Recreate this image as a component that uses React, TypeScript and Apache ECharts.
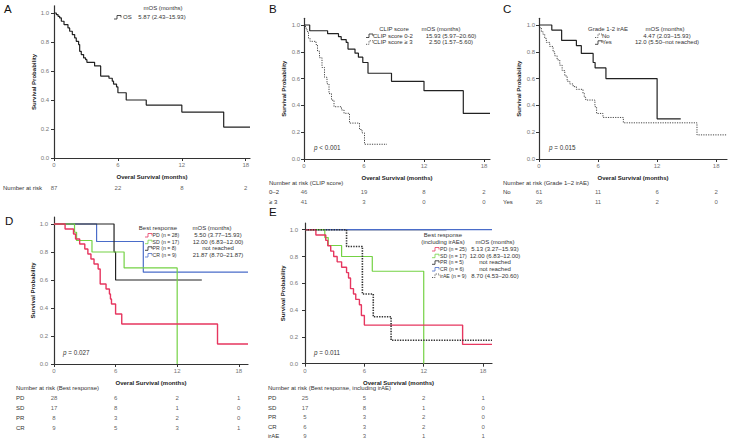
import React, { useEffect, useRef } from "react";
import * as echarts from "echarts";

const FONT = "'Liberation Sans', Arial, Helvetica, sans-serif";

// ---------- Data ----------
const TICKS_X = [0, 6, 12, 18];
const TICKS_Y = [0, 0.2, 0.4, 0.6, 0.8, 1.0];

// A: overall
const A_OS_T = [0, 0.22, 0.38, 0.53, 0.69, 0.94, 1.31, 1.47, 1.72, 1.94, 2.09, 2.31, 2.41, 2.56, 2.78, 2.97, 3.09, 3.81, 4.38, 5.16, 5.47, 5.59, 5.87, 6.0, 6.78, 8.66, 12.0, 15.93, 18.4];
const A_OS_S = [1.0, 0.989, 0.977, 0.966, 0.943, 0.92, 0.897, 0.874, 0.851, 0.828, 0.805, 0.782, 0.736, 0.713, 0.69, 0.678, 0.66, 0.635, 0.565, 0.55, 0.53, 0.51, 0.49, 0.45, 0.40, 0.365, 0.317, 0.213, 0.213];

// B: CLIP score
const B_LOW_T = [0, 0.57, 2.36, 3.45, 3.72, 4.22, 4.4, 5.1, 5.44, 5.88, 6.4, 8.75, 12.0, 15.93, 18.6];
const B_LOW_S = [1, 0.957, 0.935, 0.913, 0.891, 0.87, 0.82, 0.79, 0.76, 0.72, 0.64, 0.58, 0.51, 0.34, 0.34];
const B_HIGH_T = [0, 0.15, 0.3, 0.45, 0.6, 1.2, 1.35, 1.55, 1.8, 2.05, 2.3, 2.5, 2.75, 3.0, 3.75, 4.0, 4.55, 5.55, 5.8, 6.05, 8.3];
const B_HIGH_S = [1.0, 0.976, 0.951, 0.902, 0.878, 0.854, 0.805, 0.756, 0.683, 0.61, 0.561, 0.488, 0.439, 0.39, 0.366, 0.341, 0.268, 0.22, 0.195, 0.11, 0.11];

// C: grade 1-2 irAE
const C_YES_T = [0, 1.3, 2.3, 3.8, 4.3, 5.5, 5.7, 6.8, 12.0, 14.4];
const C_YES_S = [1, 0.962, 0.885, 0.846, 0.788, 0.72, 0.68, 0.60, 0.30, 0.30];
const C_NO_T = [0, 0.07, 0.24, 0.41, 0.58, 0.75, 1.09, 1.43, 1.6, 1.84, 2.11, 2.35, 2.62, 2.86, 3.13, 3.47, 3.8, 4.47, 4.6, 4.75, 5.68, 5.85, 6.5, 8.57, 16.05, 19.1];
const C_NO_S = [1, 0.98, 0.95, 0.93, 0.90, 0.87, 0.84, 0.80, 0.77, 0.74, 0.70, 0.66, 0.62, 0.58, 0.56, 0.54, 0.52, 0.49, 0.46, 0.44, 0.39, 0.34, 0.31, 0.27, 0.18, 0.18];

// D: best response
const D_PD_T = [0, 1.08, 1.9, 2.1, 2.5, 3.0, 3.3, 3.6, 3.9, 4.3, 4.5, 5.07, 5.4, 5.5, 5.6, 6.0, 6.6, 15.93, 18.9];
const D_PD_S = [1, 0.964, 0.929, 0.893, 0.857, 0.821, 0.786, 0.75, 0.714, 0.679, 0.571, 0.536, 0.5, 0.464, 0.429, 0.357, 0.286, 0.143, 0.143];
const D_SD_T = [0, 2.0, 2.2, 3.7, 6.83, 12.0];
const D_SD_S = [1, 0.941, 0.882, 0.8, 0.686, 0];
const D_PR_T = [0, 5.85, 6.0, 14.4];
const D_PR_S = [1, 0.8, 0.6, 0.6];
const D_CR_T = [0, 4.15, 8.7, 18.9];
const D_CR_S = [1, 0.875, 0.656, 0.656];

// E: best response including irAE
const E_PD_T = [0, 1.1, 2.1, 2.3, 2.6, 2.9, 3.25, 3.7, 4.2, 4.4, 4.6, 4.9, 5.13, 5.5, 5.7, 6.0, 15.93, 18.9];
const E_PD_S = [1, 0.96, 0.92, 0.88, 0.84, 0.80, 0.76, 0.72, 0.68, 0.64, 0.56, 0.52, 0.48, 0.44, 0.36, 0.288, 0.144, 0.144];
const E_SD_T = [0, 2.0, 2.35, 3.7, 6.8, 12.0];
const E_SD_S = [1, 0.941, 0.882, 0.8, 0.69, 0];
const E_PR_T = [0, 14.3];
const E_PR_S = [1, 1];
const E_CR_T = [0, 18.9];
const E_CR_S = [1, 1];
const E_IRAE_T = [0, 4.2, 5.8, 6.9, 8.7, 18.9];
const E_IRAE_S = [1, 0.875, 0.52, 0.35, 0.175, 0.175];

// Number at risk
const A_RISK_ROWS = ["Number at risk"];
const A_RISK = [[87, 22, 8, 2]];
const B_RISK_ROWS = ["0–2", "≥ 3"];
const B_RISK = [[46, 19, 8, 2], [41, 3, 0, 0]];
const C_RISK_ROWS = ["No", "Yes"];
const C_RISK = [[61, 11, 6, 2], [26, 11, 2, 0]];
const D_RISK_ROWS = ["PD", "SD", "PR", "CR"];
const D_RISK = [[28, 6, 2, 1], [17, 8, 1, 0], [8, 3, 2, 0], [9, 5, 3, 1]];
const E_RISK_ROWS = ["PD", "SD", "PR", "CR", "irAE"];
const E_RISK = [[25, 5, 2, 1], [17, 8, 1, 0], [5, 3, 2, 0], [6, 3, 2, 0], [9, 3, 1, 1]];

// Legends
const A_LEG_LABELS = ["OS"];
const A_LEG_VALUES = ["5.87 (2.43–15.93)"];
const B_LEG_LABELS = ["CLIP score 0-2", "CLIP score ≥ 3"];
const B_LEG_VALUES = ["15.93 (5.97–20.60)", "2.50 (1.57–5.60)"];
const C_LEG_LABELS = ["No", "Yes"];
const C_LEG_VALUES = ["4.47 (2.03–15.93)", "12.0 (5.50–not reached)"];
const D_LEG_LABELS = ["PD (n = 28)", "SD (n = 17)", "PR (n = 8)", "CR (n = 9)"];
const D_LEG_VALUES = ["5.50 (3.77–15.93)", "12.00 (6.83–12.00)", "not reached", "21.87 (8.70–21.87)"];
const E_LEG_LABELS = ["PD (n = 25)", "SD (n = 17)", "PR (n = 5)", "CR (n = 6)", "irAE (n = 9)"];
const E_LEG_VALUES = ["5.13 (3.27–15.93)", "12.00 (6.83–12.00)", "not reached", "not reached", "8.70 (4.53–20.60)"];

// ---------- Styles ----------
const RED = "#e6365f";
const GREEN = "#74d244";
const BLUE = "#4a6cc9";
const BLACK = "#222";
const DOT = [1.2, 1.2];

type Curve = { t: number[]; s: number[]; color: string; width: number; dash?: number[] };
type Panel = {
  grid: { left: number; top: number; width: number; height: number };
  xMax: number;
  yLabelMargin: number;
  riskTop: number;
  riskRowH: number;
  riskRows: string[];
  risk: number[][];
  riskLabelX: number;
  curves: Curve[];
};

const panels: Panel[] = [
  {
    grid: { left: 54, top: 5.75, width: 196, height: 152.25 }, xMax: 18.4, yLabelMargin: 5,
    riskTop: 183, riskRowH: 10, riskRows: A_RISK_ROWS, risk: A_RISK, riskLabelX: 3,
    curves: [{ t: A_OS_T, s: A_OS_S, color: BLACK, width: 1.2 }],
  },
  {
    grid: { left: 304, top: 18.3, width: 186, height: 140.7 }, xMax: 18.6, yLabelMargin: 4,
    riskTop: 187, riskRowH: 10, riskRows: B_RISK_ROWS, risk: B_RISK, riskLabelX: 269,
    curves: [
      { t: B_LOW_T, s: B_LOW_S, color: BLACK, width: 1.2 },
      { t: B_HIGH_T, s: B_HIGH_S, color: "#333", width: 0.9, dash: DOT },
    ],
  },
  {
    grid: { left: 539, top: 18.3, width: 188, height: 140.7 }, xMax: 19.1, yLabelMargin: 4,
    riskTop: 187, riskRowH: 10, riskRows: C_RISK_ROWS, risk: C_RISK, riskLabelX: 503,
    curves: [
      { t: C_NO_T, s: C_NO_S, color: "#333", width: 0.9, dash: DOT },
      { t: C_YES_T, s: C_YES_S, color: BLACK, width: 1.2 },
    ],
  },
  {
    grid: { left: 54, top: 217, width: 194, height: 147 }, xMax: 18.9, yLabelMargin: 6,
    riskTop: 393, riskRowH: 10, riskRows: D_RISK_ROWS, risk: D_RISK, riskLabelX: 16,
    curves: [
      { t: D_CR_T, s: D_CR_S, color: BLUE, width: 1.2 },
      { t: D_PR_T, s: D_PR_S, color: BLACK, width: 1.2 },
      { t: D_SD_T, s: D_SD_S, color: GREEN, width: 1.2 },
      { t: D_PD_T, s: D_PD_S, color: RED, width: 1.4 },
    ],
  },
  {
    grid: { left: 305, top: 223, width: 187, height: 140.7 }, xMax: 18.9, yLabelMargin: 7,
    riskTop: 393.3, riskRowH: 9.6, riskRows: E_RISK_ROWS, risk: E_RISK, riskLabelX: 268,
    curves: [
      { t: E_PR_T, s: E_PR_S, color: BLACK, width: 1.2 },
      { t: E_CR_T, s: E_CR_S, color: BLUE, width: 1.2 },
      { t: E_SD_T, s: E_SD_S, color: GREEN, width: 1.2 },
      { t: E_PD_T, s: E_PD_S, color: RED, width: 1.4 },
      { t: E_IRAE_T, s: E_IRAE_S, color: "#333", width: 1.6, dash: [1.4, 1.2] },
    ],
  },
];

function pairs(t: number[], s: number[]) {
  return t.map((x, i) => [x, s[i]]);
}

function txt(x: number, y: number, text: string, o: any = {}) {
  const align = o.align ?? "left";
  return {
    type: "text", x, y, silent: true,
    style: {
      text, fontSize: o.size ?? 6, fontFamily: FONT, fontWeight: o.weight ?? "normal",
      fill: o.color ?? "#333", align, verticalAlign: "middle",
      textAlign: align, textVerticalAlign: "middle", rich: o.rich,
    },
  };
}

function glyph(x: number, y: number, color: string, dash?: number[]) {
  return {
    type: "polyline", x, y, silent: true,
    shape: { points: [[0, 2], [3, 2], [3, -1.5], [7, -1.5], [7, 0.5]] },
    style: { stroke: color, lineWidth: 0.8, fill: null, lineDash: dash ?? null },
  };
}

function pText(x: number, y: number, rest: string) {
  return txt(x, y, "{i|p} " + rest, {
    size: 6.3,
    rich: { i: { fontStyle: "italic", fontSize: 6.3, fontFamily: FONT, fill: "#333" } },
  });
}

function legendRows(
  labels: string[], values: string[], colors: string[], dashes: (number[] | undefined)[],
  gx: number, lx: number, vx: number, ys: number[], labelSize = 6, valueSize = 6,
) {
  const out: any[] = [];
  labels.forEach((l, i) => {
    out.push(glyph(gx, ys[i], colors[i], dashes[i]));
    out.push(txt(lx, ys[i], l, { size: labelSize }));
    out.push(txt(vx, ys[i], values[i], { align: "center", size: valueSize }));
  });
  return out;
}

function buildOption() {
  const grid: any[] = [];
  const xAxis: any[] = [];
  const yAxis: any[] = [];
  const series: any[] = [];
  const axisLine = { show: true, lineStyle: { color: "#333", width: 1.2 } };

  panels.forEach((p, i) => {
    const gk = 2 * i;
    const gr = 2 * i + 1;
    grid.push({ ...p.grid, containLabel: false });
    grid.push({
      left: p.grid.left, width: p.grid.width, top: p.riskTop,
      height: p.riskRowH * p.riskRows.length, containLabel: false,
    });
    xAxis.push({
      gridIndex: gk, type: "value", min: 0, max: p.xMax,
      axisLine, splitLine: { show: false },
      axisTick: { show: true, length: 3, customValues: TICKS_X, lineStyle: { color: "#333", width: 1 } },
      axisLabel: { customValues: TICKS_X, fontSize: 6, color: "#777", margin: 4, fontFamily: FONT },
      name: "Overal Survival (months)", nameLocation: "middle", nameGap: 16,
      nameTextStyle: { fontSize: 6, fontWeight: "bold", color: "#222", fontFamily: FONT },
    });
    yAxis.push({
      gridIndex: gk, type: "value", min: 0, max: 1.05,
      axisLine, splitLine: { show: false },
      axisTick: { show: true, length: 3, customValues: TICKS_Y, lineStyle: { color: "#333", width: 1 } },
      axisLabel: {
        customValues: TICKS_Y, fontSize: 6, color: "#777", margin: p.yLabelMargin, fontFamily: FONT,
        formatter: (v: number) => v.toFixed(1),
      },
      name: "Survival Probability", nameLocation: "middle", nameGap: 17,
      nameTextStyle: { fontSize: 6, fontWeight: "bold", color: "#222", fontFamily: FONT },
    });
    xAxis.push({ gridIndex: gr, type: "value", min: 0, max: p.xMax, show: false });
    yAxis.push({
      gridIndex: gr, type: "category", data: p.riskRows, inverse: true,
      axisLine: { show: false }, axisTick: { show: false }, splitLine: { show: false },
      axisLabel: {
        show: true, align: "left", margin: p.grid.left - p.riskLabelX,
        fontSize: 6, color: "#333", fontFamily: FONT,
      },
    });

    p.curves.forEach((c, ci) => {
      series.push({
        type: "line", name: `p${i}c${ci}`, xAxisIndex: gk, yAxisIndex: gk,
        step: "end", symbol: "none", data: pairs(c.t, c.s), z: 3 + ci,
        lineStyle: { color: c.color, width: c.width, type: c.dash ?? "solid" },
      });
    });

    const riskData: any[] = [];
    p.riskRows.forEach((r, ri) => {
      TICKS_X.forEach((t, ti) => riskData.push([t, r, p.risk[ri][ti]]));
    });
    series.push({
      type: "scatter", xAxisIndex: gr, yAxisIndex: gr, symbolSize: 0, data: riskData,
      label: {
        show: true, position: "inside", formatter: (d: any) => String(d.value[2]),
        fontSize: 6, color: "#333", fontFamily: FONT,
      },
    });
  });

  const graphic: any[] = [
    // panel letters
    txt(4, 9, "A", { size: 11.5, color: "#111" }),
    txt(269, 9, "B", { size: 11.5, color: "#111" }),
    txt(503, 9, "C", { size: 11.5, color: "#111" }),
    txt(5, 220.5, "D", { size: 11.5, color: "#111" }),
    txt(269, 212, "E", { size: 11.5, color: "#111" }),
    // A legend
    txt(163, 8, "mOS (months)", { align: "center" }),
    ...legendRows(A_LEG_LABELS, A_LEG_VALUES, [BLACK], [undefined], 114, 123, 162, [17]),
    // B legend
    txt(394, 29, "CLIP score", { align: "center" }),
    txt(441, 29, "mOS (months)", { align: "center" }),
    ...legendRows(B_LEG_LABELS, B_LEG_VALUES, [BLACK, "#333"], [undefined, DOT], 366, 373, 451, [35.5, 42.3]),
    // C legend
    txt(608, 29, "Grade 1-2 irAE", { align: "center" }),
    txt(665, 29, "mOS (months)", { align: "center" }),
    ...legendRows(C_LEG_LABELS, C_LEG_VALUES, ["#333", BLACK], [DOT, undefined], 595, 602, 667, [35.5, 42.3]),
    // D legend
    txt(158, 228, "Best response", { align: "center" }),
    txt(212, 228, "mOS (months)", { align: "center" }),
    ...legendRows(D_LEG_LABELS, D_LEG_VALUES, [RED, GREEN, BLACK, BLUE], [undefined, undefined, undefined, undefined], 145, 152.5, 218, [235, 241.7, 248.3, 255], 5.2, 6),
    // E legend
    txt(443, 235, "Best response", { align: "center" }),
    txt(443, 242, "(including irAEs)", { align: "center" }),
    txt(495, 242, "mOS (months)", { align: "center" }),
    ...legendRows(E_LEG_LABELS, E_LEG_VALUES, [RED, GREEN, BLACK, BLUE, "#333"], [undefined, undefined, undefined, undefined, DOT], 432, 440, 495, [249, 255.7, 262.3, 269, 275.5], 5.2, 6),
    // p-values
    pText(314, 147, "< 0.001"),
    pText(549, 147, "= 0.015"),
    pText(63, 352, "= 0.027"),
    pText(314, 352, "= 0.011"),
    // risk headers
    txt(269, 183, "Number at risk (CLIP score)"),
    txt(503, 183, "Number at risk (Grade 1–2 irAE)"),
    txt(16, 388, "Number at risk (Best response)"),
    txt(268, 388, "Number at risk (Best response, including irAE)"),
  ];

  return {
    animation: false,
    backgroundColor: "#fff",
    textStyle: { fontFamily: FONT },
    grid, xAxis, yAxis, series, graphic,
  };
}

export default function App() {
  const ref = useRef<HTMLDivElement>(null);
  useEffect(() => {
    document.body.style.margin = "0";
    const chart = echarts.init(ref.current!, undefined, { renderer: "svg" });
    chart.setOption(buildOption() as any);
    return () => chart.dispose();
  }, []);
  return <div ref={ref} style={{ width: 729, height: 441, background: "#fff" }} />;
}
